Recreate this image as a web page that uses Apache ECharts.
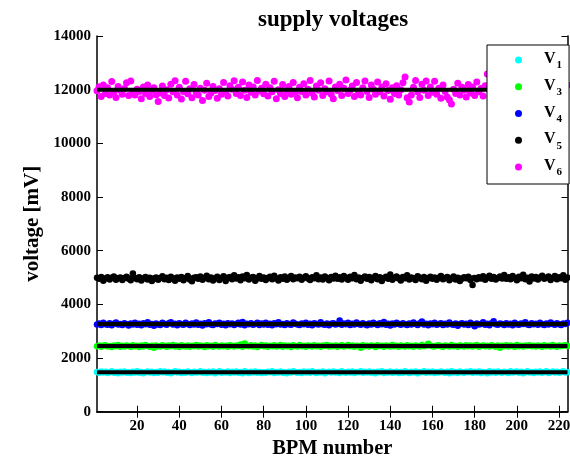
<!DOCTYPE html>
<html>
<head>
<meta charset="utf-8">
<script src="https://cdn.jsdelivr.net/npm/echarts@6/dist/echarts.min.js"></script>
<style>
  html, body { margin: 0; padding: 0; background: #fff; }
  #chart { width: 570px; height: 457px; }
</style>
</head>
<body>
<div id="chart"></div>
<script>
// Supply voltages measured on each BPM (mV)
const seriesNames = ['1', '3', '4', '5', '6'];
const seriesColors = ['#00ffff', '#00ff00', '#0000ff', '#000000', '#ff00ff'];
const nominal = [1470, 2450, 3270, 5000, 12000];
const xTicks = [20, 40, 60, 80, 100, 120, 140, 160, 180, 200, 220];
const bpmCount = 224;

const v1 = [
  1480, 1450, 1500, 1460, 1490, 1440, 1470, 1510, 1450, 1480, 1430, 1490, 1460, 1500, 1450, 1470,
  1440, 1490, 1460, 1510, 1450, 1480, 1430, 1470, 1500, 1460, 1490, 1440, 1480, 1450, 1510, 1470,
  1500, 1450, 1480, 1430, 1470, 1510, 1460, 1490, 1440, 1480, 1450, 1500, 1470, 1440, 1490, 1460,
  1470, 1510, 1450, 1480, 1440, 1490, 1460, 1500, 1430, 1470, 1510, 1450, 1480, 1460, 1500, 1440,
  1490, 1460, 1500, 1450, 1480, 1430, 1510, 1470, 1440, 1490, 1460, 1500, 1450, 1480, 1440, 1470,
  1450, 1490, 1470, 1510, 1440, 1480, 1460, 1500, 1450, 1470, 1430, 1490, 1460, 1510, 1480, 1450,
  1480, 1440, 1500, 1460, 1490, 1450, 1510, 1470, 1440, 1480, 1460, 1500, 1430, 1470, 1490, 1460,
  1500, 1460, 1480, 1440, 1510, 1470, 1450, 1490, 1460, 1500, 1440, 1480, 1470, 1510, 1450, 1490,
  1460, 1500, 1450, 1480, 1430, 1490, 1470, 1510, 1440, 1480, 1460, 1500, 1450, 1470, 1490, 1440,
  1480, 1450, 1510, 1470, 1440, 1490, 1460, 1500, 1430, 1480, 1470, 1510, 1450, 1490, 1460, 1500,
  1440, 1480, 1460, 1500, 1470, 1450, 1490, 1430, 1510, 1460, 1480, 1440, 1500, 1470, 1450, 1490,
  1470, 1510, 1450, 1490, 1460, 1500, 1440, 1480, 1470, 1430, 1510, 1460, 1490, 1450, 1500, 1470,
  1450, 1490, 1470, 1440, 1510, 1460, 1480, 1500, 1450, 1490, 1430, 1470, 1510, 1460, 1480, 1440,
  1490, 1460, 1500, 1450, 1480, 1510, 1440, 1470, 1500, 1460, 1490, 1450, 1480, 1510, 1460, 1470
];
const v3 = [
  2440, 2470, 2420, 2460, 2480, 2430, 2450, 2410, 2470, 2440, 2490, 2420, 2460, 2430, 2470, 2450,
  2420, 2480, 2440, 2460, 2410, 2470, 2430, 2490, 2450, 2420, 2460, 2380, 2470, 2440, 2430, 2480,
  2450, 2420, 2470, 2440, 2490, 2430, 2460, 2410, 2480, 2450, 2430, 2470, 2420, 2460, 2440, 2490,
  2430, 2470, 2450, 2410, 2480, 2440, 2460, 2420, 2490, 2450, 2430, 2470, 2440, 2460, 2420, 2480,
  2460, 2430, 2470, 2450, 2500, 2420, 2540, 2460, 2440, 2480, 2430, 2470, 2410, 2450, 2490, 2440,
  2470, 2420, 2460, 2440, 2480, 2430, 2450, 2490, 2420, 2470, 2440, 2460, 2410, 2480, 2450, 2430,
  2490, 2440, 2460, 2420, 2470, 2450, 2430, 2480, 2440, 2460, 2420, 2470, 2450, 2490, 2430, 2460,
  2440, 2470, 2420, 2460, 2480, 2430, 2450, 2490, 2440, 2470, 2420, 2460, 2450, 2380, 2480, 2440,
  2460, 2430, 2470, 2450, 2410, 2480, 2440, 2460, 2420, 2470, 2450, 2430, 2490, 2440, 2460, 2420,
  2470, 2450, 2430, 2480, 2440, 2460, 2420, 2470, 2450, 2430, 2490, 2440, 2460, 2530, 2470, 2440,
  2430, 2460, 2480, 2440, 2420, 2470, 2450, 2430, 2490, 2440, 2460, 2420, 2470, 2450, 2430, 2480,
  2440, 2470, 2430, 2460, 2490, 2420, 2450, 2470, 2440, 2460, 2430, 2480, 2450, 2420, 2470, 2380,
  2460, 2440, 2480, 2430, 2470, 2450, 2420, 2490, 2440, 2460, 2430, 2470, 2450, 2480, 2440, 2460,
  2430, 2470, 2450, 2420, 2480, 2440, 2460, 2430, 2490, 2450, 2420, 2470, 2440, 2460, 2480, 2450
];
const v4 = [
  3250, 3290, 3230, 3310, 3260, 3240, 3300, 3220, 3280, 3320, 3250, 3270, 3230, 3300, 3260, 3210,
  3290, 3250, 3310, 3240, 3280, 3220, 3300, 3260, 3330, 3240, 3270, 3200, 3290, 3250, 3230, 3310,
  3270, 3240, 3300, 3330, 3250, 3280, 3220, 3300, 3260, 3240, 3310, 3270, 3230, 3290, 3250, 3320,
  3240, 3280, 3210, 3300, 3260, 3330, 3250, 3230, 3290, 3270, 3310, 3240, 3280, 3220, 3300, 3260,
  3290, 3230, 3270, 3310, 3250, 3340, 3220, 3280, 3260, 3300, 3240, 3270, 3310, 3230, 3290, 3250,
  3310, 3240, 3280, 3220, 3300, 3260, 3330, 3250, 3270, 3230, 3300, 3260, 3240, 3320, 3280, 3250,
  3230, 3290, 3260, 3310, 3240, 3280, 3220, 3300, 3270, 3250, 3330, 3260, 3240, 3290, 3220, 3280,
  3300, 3250, 3270, 3400, 3240, 3290, 3260, 3310, 3230, 3280, 3250, 3320, 3270, 3240, 3300, 3260,
  3220, 3290, 3250, 3310, 3270, 3230, 3300, 3260, 3340, 3240, 3280, 3210, 3290, 3250, 3310, 3270,
  3240, 3300, 3260, 3230, 3290, 3250, 3320, 3270, 3230, 3300, 3360, 3250, 3280, 3220, 3290, 3260,
  3310, 3240, 3270, 3300, 3230, 3280, 3250, 3320, 3260, 3240, 3290, 3200, 3270, 3300, 3250, 3280,
  3230, 3310, 3260, 3180, 3290, 3250, 3270, 3330, 3240, 3280, 3220, 3300, 3370, 3260, 3240, 3290,
  3270, 3230, 3300, 3250, 3280, 3220, 3310, 3260, 3240, 3290, 3270, 3330, 3250, 3230, 3300, 3260,
  3280, 3240, 3310, 3260, 3230, 3290, 3250, 3320, 3270, 3240, 3300, 3260, 3230, 3290, 3270, 3310
];
const v5 = [
  4990, 4950, 5020, 4880, 4960, 5010, 4930, 4990, 5040, 4920, 4970, 5000, 4910, 4980, 5030, 4950,
  4900, 5150, 4980, 4940, 5010, 4890, 4960, 5020, 4930, 4990, 4870, 4950, 5000, 4920, 4980, 5050,
  4940, 4990, 4910, 5030, 4960, 4880, 5000, 4950, 5020, 4900, 4970, 5060, 4930, 4860, 4990, 5010,
  4950, 5040, 4920, 4980, 5070, 4940, 5000, 4890, 4960, 5030, 4910, 4980, 5050, 4870, 4990, 5020,
  4940, 5080, 4960, 5010, 4900, 5040, 4970, 5090, 4930, 4990, 5020, 4880, 4960, 5060, 4950, 5000,
  4910, 4980, 5030, 4940, 5070, 4960, 4890, 5010, 4950, 5040, 4920, 4990, 5060, 4940, 5000, 4970,
  5030, 4920, 4990, 5050, 4960, 4910, 5010, 4970, 5080, 4940, 5000, 4930, 5040, 4980, 4900, 5020,
  4960, 5070, 4950, 5010, 4930, 5060, 4990, 4920, 5030, 4970, 5090, 4940, 5000, 4880, 4980, 5040,
  4950, 5020, 4900, 4990, 5060, 4940, 5010, 4870, 4980, 5030, 4950, 5110, 4920, 4990, 5040, 4960,
  4890, 5020, 4970, 5080, 4930, 5000, 4960, 4910, 5050, 4990, 4940, 5020, 4880, 4970, 5030, 4950,
  5000, 4920, 4990, 5060, 4940, 4980, 5020, 4900, 4960, 5040, 4930, 4990, 4870, 4950, 5010, 4970,
  5030, 4910, 4720, 4980, 4940, 5010, 4960, 5050, 4920, 4990, 5070, 4950, 5020, 4930, 4980, 5040,
  4960, 5090, 4950, 5010, 4940, 5060, 4980, 4900, 5030, 4970, 5100, 4940, 4990, 4850, 5040, 4960,
  5020, 4930, 5000, 5070, 4950, 4990, 5040, 4910, 4980, 5060, 4940, 5010, 4970, 5080, 4920, 5000
];
const v6 = [
  11960, 12110, 11750, 12170, 11860, 12070, 11800, 12300, 11920, 11710, 12120, 11980, 11830, 12040, 12260, 11780,
  12320, 11900, 11800, 12020, 11930, 11660, 12100, 11860, 12170, 11750, 11970, 12070, 11810, 11560, 11880, 12140,
  11780, 12000, 11690, 12200, 11920, 12330, 11800, 12090, 11650, 11930, 12310, 11850, 12030, 11700, 12190, 11900,
  11800, 12050, 11600, 11980, 12240, 11750, 11880, 12120, 11970, 11680, 12030, 11830, 12270, 11920, 11760, 12150,
  12020, 12330, 11860, 12090, 11780, 12290, 11980, 11710, 12170, 11900, 12100, 11800, 12340, 11950, 12050, 11850,
  12200, 11760, 12070, 11920, 12310, 11660, 12000, 11860, 12190, 11750, 11970, 12120, 11830, 12270, 11900, 11700,
  12090, 11930, 12220, 11800, 12020, 12340, 11880, 11730, 12140, 11980, 12260, 11780, 12030, 11920, 12320, 11830,
  11660, 12100, 11970, 12200, 11780, 12050, 12360, 11860, 11980, 12140, 11750, 12270, 11900, 11800, 12070, 12320,
  11930, 11710, 12170, 12020, 11830, 12290, 11920, 12100, 11760, 12220, 11970, 11640, 12070, 11860, 12150, 11800,
  12000, 12260, 12470, 11700, 11540, 11800, 12090, 12340, 11920, 11710, 12200, 11980, 12320, 11780, 12100, 11900,
  12310, 11830, 12050, 11680, 12170, 11930, 11730, 11620, 11470, 12020, 11860, 12240, 11800, 12090, 11980, 11730,
  12190, 11880, 12100, 11780, 12290, 11920, 12040, 11760, 12150, 12580, 11980, 12200, 11830, 12070, 11930, 12260,
  11800, 12050, 11900, 12170, 11750, 12120, 11950, 12310, 11850, 12040, 11710, 12150, 11930, 12240, 11810, 12090,
  11970, 12190, 11780, 12050, 11900, 12270, 11830, 12100, 11690, 12200, 11950, 12070, 11800, 12340, 12350, 12170
];
const voltages = [v1, v3, v4, v5, v6];

const serif = 'Liberation Serif';
const bpm = [];
for (let i = 1; i <= bpmCount; i++) bpm.push(i);

const scatterSeries = voltages.map((vals, k) => ({
  name: 'V' + seriesNames[k],
  type: 'scatter',
  symbol: 'circle',
  symbolSize: k === 4 ? 7 : 6.5,
  itemStyle: { color: seriesColors[k], opacity: 1 },
  data: vals.map((v, i) => [bpm[i], v]),
  z: 2
}));

// nominal supply level drawn across the full BPM range
const nominalSeries = nominal.map(v => ({
  type: 'line',
  symbol: 'none',
  silent: true,
  lineStyle: { color: '#000', width: 4 },
  data: [[bpm[0], v], [bpm[bpm.length - 1], v]],
  z: 3
}));

const boxAxisCommon = {
  axisLine: { show: true, lineStyle: { color: '#000', width: 1.5 } },
  splitLine: { show: false }
};

const option = {
  animation: false,
  backgroundColor: '#fff',
  title: {
    text: 'supply voltages',
    left: 253,
    top: 4,
    textStyle: { fontFamily: serif, fontWeight: 'bold', fontSize: 23, color: '#000' }
  },
  legend: {
    data: seriesNames.map(n => 'V' + n),
    orient: 'vertical',
    left: 487,
    top: 45,
    backgroundColor: '#fff',
    borderColor: '#000',
    borderWidth: 1,
    borderRadius: 0,
    padding: [6, 7, 6, 28],
    itemWidth: 7,
    itemHeight: 7,
    itemGap: 6.75,
    icon: 'circle',
    z: 10,
    formatter: name => '{v|V}{s|' + name.slice(1) + '}',
    textStyle: {
      fontFamily: serif,
      color: '#000',
      rich: {
        v: { fontFamily: serif, fontWeight: 'bold', fontSize: 16, lineHeight: 18, padding: [0, 0, 0, 17], verticalAlign: 'top' },
        s: { fontFamily: serif, fontWeight: 'bold', fontSize: 11, lineHeight: 11, padding: [9, 0, 0, 1], verticalAlign: 'top' }
      }
    }
  },
  grid: { left: 97, right: 2.5, top: 36, bottom: 45.3, containLabel: false, outerBoundsMode: 'none' },
  xAxis: [
    Object.assign({
      type: 'value',
      min: bpm[0],
      max: bpm[bpm.length - 1],
      position: 'bottom',
      name: 'BPM number',
      nameLocation: 'middle',
      nameGap: 25,
      nameTextStyle: { fontFamily: serif, fontWeight: 'bold', fontSize: 20.5, color: '#000', verticalAlign: 'top' },
      axisTick: { show: true, inside: true, length: 6, customValues: xTicks, lineStyle: { color: '#000', width: 1 } },
      axisLabel: { show: true, customValues: xTicks, fontFamily: serif, fontWeight: 'bold', fontSize: 15, color: '#000', margin: 7 }
    }, boxAxisCommon),
    Object.assign({
      type: 'value',
      min: bpm[0],
      max: bpm[bpm.length - 1],
      position: 'top',
      axisTick: { show: true, inside: true, length: 6, customValues: xTicks, lineStyle: { color: '#000', width: 1 } },
      axisLabel: { show: false }
    }, boxAxisCommon)
  ],
  yAxis: [
    Object.assign({
      type: 'value',
      min: 0,
      max: 14000,
      interval: 2000,
      position: 'left',
      name: 'voltage [mV]',
      nameLocation: 'middle',
      nameGap: 48,
      nameTextStyle: { fontFamily: serif, fontWeight: 'bold', fontSize: 21, color: '#000' },
      axisTick: { show: true, inside: true, length: 6, lineStyle: { color: '#000', width: 1 } },
      axisLabel: { show: true, formatter: v => String(v), fontFamily: serif, fontWeight: 'bold', fontSize: 15, color: '#000', margin: 6 }
    }, boxAxisCommon),
    Object.assign({
      type: 'value',
      min: 0,
      max: 14000,
      interval: 2000,
      position: 'right',
      axisTick: { show: true, inside: true, length: 6, lineStyle: { color: '#000', width: 1 } },
      axisLabel: { show: false }
    }, boxAxisCommon)
  ],
  series: scatterSeries.concat(nominalSeries)
};

const chart = echarts.init(document.getElementById('chart'), null, { renderer: 'canvas' });
chart.setOption(option);
</script>
</body>
</html>
